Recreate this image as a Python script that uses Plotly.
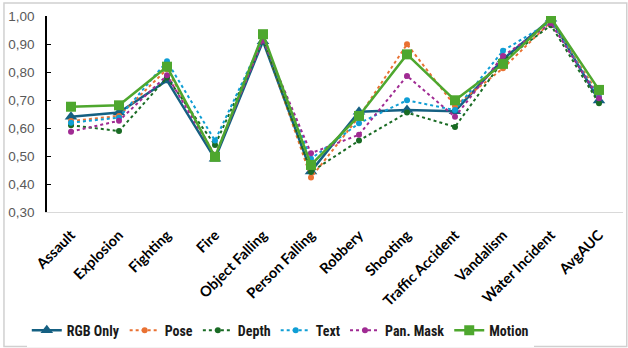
import plotly.graph_objects as go

categories = ["Assault", "Explosion", "Fighting", "Fire", "Object Falling", "Person Falling",
              "Robbery", "Shooting", "Traffic Accident", "Vandalism", "Water Incident", "AvgAUC"]

rgb_only = [0.640, 0.655, 0.770, 0.490, 0.910, 0.445, 0.658, 0.664, 0.660, 0.845, 0.990, 0.698]
pose     = [0.625, 0.643, 0.810, 0.500, 0.920, 0.423, 0.640, 0.899, 0.679, 0.813, 0.980, 0.720]
depth    = [0.610, 0.589, 0.780, 0.539, 0.915, 0.443, 0.555, 0.655, 0.604, 0.840, 0.967, 0.688]
text     = [0.619, 0.637, 0.838, 0.555, 0.920, 0.490, 0.617, 0.699, 0.664, 0.876, 0.980, 0.710]
pan_mask = [0.587, 0.626, 0.788, 0.500, 0.915, 0.510, 0.576, 0.786, 0.640, 0.857, 0.974, 0.706]
motion   = [0.676, 0.681, 0.819, 0.497, 0.935, 0.468, 0.643, 0.863, 0.699, 0.829, 0.992, 0.736]

y_ticks = [0.30, 0.40, 0.50, 0.60, 0.70, 0.80, 0.90, 1.00]

series = [
    ("RGB Only", rgb_only, "#156082", "solid", "triangle-up", 11, 2.5),
    ("Pose", pose, "#E97132", "dot", "circle", 6, 2),
    ("Depth", depth, "#196B24", "dot", "circle", 6, 2),
    ("Text", text, "#0F9ED5", "dot", "circle", 6, 2),
    ("Pan. Mask", pan_mask, "#A02B93", "dot", "circle", 6, 2),
    ("Motion", motion, "#4EA72E", "solid", "square", 10, 2.5),
]

fig = go.Figure()
for name, vals, color, dash, sym, size, width in series:
    fig.add_trace(go.Scatter(
        x=categories, y=vals, name=name, mode="lines+markers",
        line=dict(color=color, width=width, dash=dash),
        marker=dict(symbol=sym, size=size, color=color),
    ))

fig.update_layout(
    width=628, height=348,
    margin=dict(l=47, r=5, t=16, b=136, autoexpand=False),
    paper_bgcolor="white", plot_bgcolor="white",
    separators=", ",
    font=dict(family="Lato, Noto Sans, sans-serif"),
    showlegend=True,
    legend=dict(orientation="h", x=0.405, xanchor="center", y=-0.605, yanchor="middle",
                font=dict(family="Roboto Condensed, Roboto, sans-serif", size=14, color="#1a1a1a",
                          weight="bold"),
                itemwidth=30, tracegroupgap=0),
)
fig.update_xaxes(
    type="category", range=[-0.5, 11.5], automargin=False,
    showline=True, linecolor="#D9D9D9", linewidth=1,
    showgrid=False, ticks="", tickangle=-45, ticklabelstandoff=8,
    tickfont=dict(family="Lato, sans-serif", size=14.5, color="black", weight="bold"),
)
fig.update_yaxes(
    range=[0.30, 1.00], tickvals=y_ticks, tickformat=".2f", automargin=False,
    showline=True, linecolor="black", linewidth=1.5,
    showgrid=False, zeroline=False, ticks="inside", ticklen=4, tickcolor="black",
    ticklabelstandoff=8,
    tickfont=dict(family="Liberation Sans, Arial, sans-serif", size=13.5, color="#595959"),
)
fig.add_shape(type="rect", xref="paper", yref="paper",
              x0=-0.0747, x1=1.0065, y0=-0.686, y1=1.066,
              line=dict(color="#D0D0D0", width=1.5), fillcolor="rgba(0,0,0,0)", layer="below")

fig.write_html("out.html", config={"displayModeBar": False},
               post_script="document.body.style.margin='0px';document.body.style.padding='0px';")
